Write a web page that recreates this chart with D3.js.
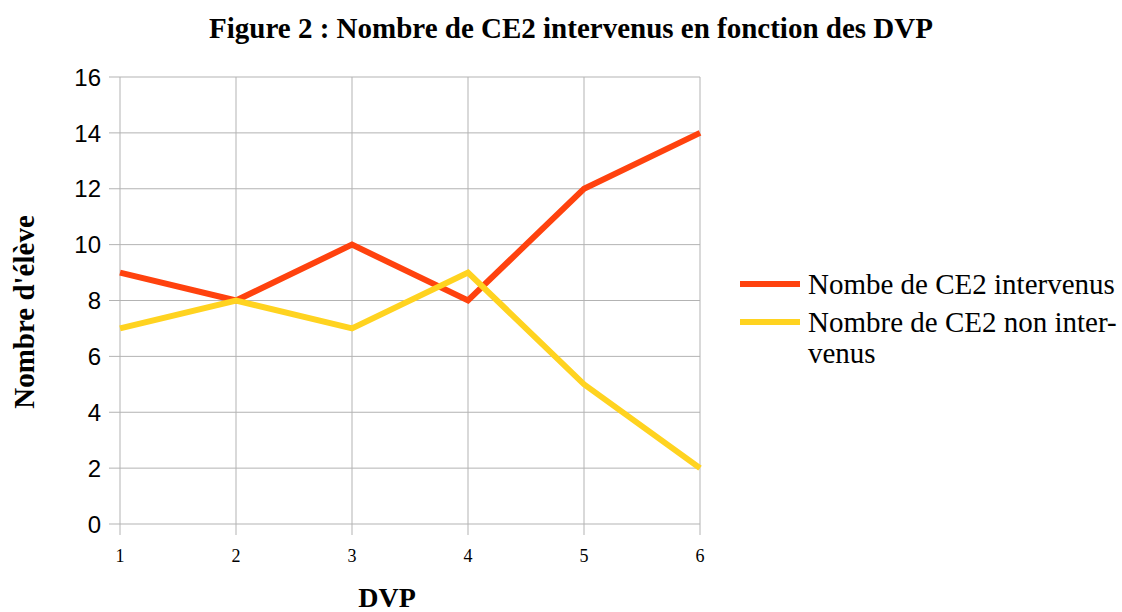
<html>
<head>
<meta charset="utf-8">
<script src="https://d3js.org/d3.v7.min.js"></script>
<style>
  body { margin: 0; background: white; }
  .grid line { stroke: #b3b3b3; stroke-width: 1; }
  .serif { font-family: "Liberation Serif", "Times New Roman", serif; }
</style>
</head>
<body>
<script>
// data
var dvp = [1, 2, 3, 4, 5, 6];
var intervenus = [9, 8, 10, 8, 12, 14];
var nonIntervenus = [7, 8, 7, 9, 5, 2];
var yTicks = [0, 2, 4, 6, 8, 10, 12, 14, 16];
var seriesNames = ["Nombe de CE2 intervenus", "Nombre de CE2 non inter-|venus"];
var colors = ["#ff420e", "#ffd320"];

var width = 1122, height = 612;
var svg = d3.select("body").append("svg")
  .attr("width", width).attr("height", height);

var x = d3.scaleLinear().domain([1, 6]).range([120, 700]);
var y = d3.scaleLinear().domain([0, 16]).range([524, 77]);

// horizontal grid + y ticks
var g = svg.append("g").attr("class", "grid");
g.selectAll(".h").data(yTicks).enter().append("line")
  .attr("x1", 109).attr("x2", 700)
  .attr("y1", function(d) { return y(d); }).attr("y2", function(d) { return y(d); });
// vertical grid + x ticks
g.selectAll(".v").data(dvp).enter().append("line")
  .attr("x1", function(d) { return x(d); }).attr("x2", function(d) { return x(d); })
  .attr("y1", 77).attr("y2", 535);

svg.selectAll(".ylab").data(yTicks).enter().append("text")
  .attr("x", 101).attr("y", function(d) { return y(d); })
  .attr("dy", "0.36em").attr("text-anchor", "end")
  .style("font-family", "'Liberation Sans', Arial, sans-serif")
  .style("font-size", "24px")
  .text(function(d) { return d; });

svg.selectAll(".xlab").data(dvp).enter().append("text")
  .attr("class", "serif")
  .attr("x", function(d) { return x(d); }).attr("y", 562)
  .attr("text-anchor", "middle")
  .style("font-size", "18px")
  .text(function(d) { return d; });

var line = d3.line()
  .x(function(d, i) { return x(dvp[i]); })
  .y(function(d) { return y(d); });

[intervenus, nonIntervenus].forEach(function(s, i) {
  svg.append("path").datum(s)
    .attr("fill", "none")
    .attr("stroke", colors[i])
    .attr("stroke-width", 6)
    .attr("stroke-linejoin", "miter")
    .attr("d", line);
});

// title & axis labels
svg.append("text").attr("class", "serif")
  .attr("x", 571).attr("y", 38).attr("text-anchor", "middle")
  .style("font-size", "29px").style("font-weight", "bold")
  .text("Figure 2 : Nombre de CE2 intervenus en fonction des DVP");

svg.append("text").attr("class", "serif")
  .attr("transform", "translate(34,312) rotate(-90)")
  .attr("text-anchor", "middle")
  .style("font-size", "29px").style("font-weight", "bold")
  .text("Nombre d'élève");

svg.append("text").attr("class", "serif")
  .attr("x", 387).attr("y", 607).attr("text-anchor", "middle")
  .style("font-size", "28px").style("font-weight", "bold")
  .text("DVP");

// legend
var legY = [284, 322];
seriesNames.forEach(function(name, i) {
  svg.append("line")
    .attr("x1", 740).attr("x2", 800)
    .attr("y1", legY[i]).attr("y2", legY[i])
    .attr("stroke", colors[i]).attr("stroke-width", 6);
  var t = svg.append("text").attr("class", "serif")
    .attr("x", 808).attr("y", legY[i] + 10)
    .style("font-size", "29px");
  name.split("|").forEach(function(part, j) {
    t.append("tspan").attr("x", 808).attr("dy", j === 0 ? 0 : 31).text(part);
  });
});
</script>
</body>
</html>
